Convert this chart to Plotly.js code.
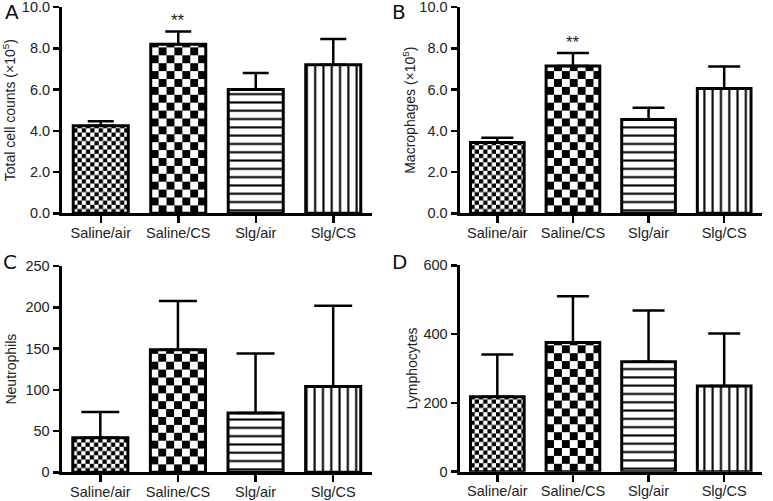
<!DOCTYPE html>
<html><head><meta charset="utf-8">
<script src="https://cdn.plot.ly/plotly-3.0.1.min.js"></script>
<style>html,body{margin:0;padding:0;background:#fff}#chart{width:773px;height:501px}</style>
</head><body><div id="chart"></div>
<script>
// ---- data ----
const categories = ['Saline/air', 'Saline/CS', 'Slg/air', 'Slg/CS'];
const totalMean = [4.25, 8.2, 6.0, 7.2];
const totalErr = [0.22, 0.62, 0.8, 1.25];
const macroMean = [3.43, 7.14, 4.55, 6.05];
const macroErr = [0.24, 0.63, 0.57, 1.07];
const neutroMean = [42, 148.6, 72, 104];
const neutroErr = [31, 59, 72, 98];
const lymphoMean = [218, 376, 320, 249];
const lymphoErr = [123, 134, 149, 153];
const noLower = [0, 0, 0, 0];
const ticksAB = [0, 2, 4, 6, 8, 10];
const ticksC = [0, 50, 100, 150, 200, 250];
const ticksD = [0, 200, 400, 600];
const panelLetters = ['A', 'B', 'C', 'D'];
const yTitles = ['Total cell counts (×10<sup>5</sup>)', 'Macrophages (×10<sup>5</sup>)', 'Neutrophils', 'Lymphocytes'];
const sigLabel = '**';

const W = 773, H = 501;
const FONT = 'Liberation Sans, Arial, Helvetica, sans-serif';
const TXT = '#222';
const shapes = ['', '', '-', '|'];

function px2x(a, b) { return [a / W, b / W]; }
function px2y(top, bottom) { return [1 - bottom / H, 1 - top / H]; }

const panels = [
  {mean: totalMean, err: totalErr, xd: px2x(62, 372), yd: px2y(7, 213.3), range: [0, 10.005], ticks: ticksAB, fmt: '.1f', cap: 13, so: 5},
  {mean: macroMean, err: macroErr, xd: px2x(459.5, 762), yd: px2y(7, 213.3), range: [0, 10.005], ticks: ticksAB, fmt: '.1f', cap: 16, so: 1},
  {mean: neutroMean, err: neutroErr, xd: px2x(61.5, 372), yd: px2y(266, 472.3), range: [0, 250.1], ticks: ticksC, fmt: 'd', cap: 19, so: 6},
  {mean: lymphoMean, err: lymphoErr, xd: px2x(459.5, 762), yd: px2y(265.3, 471.7), range: [0, 600.2], ticks: ticksD, fmt: 'd', cap: 16, so: 3}
];

const data = [];
const layout = {
  width: W, height: H, margin: {l: 0, r: 0, t: 0, b: 0},
  paper_bgcolor: 'white', plot_bgcolor: 'white', showlegend: false,
  font: {family: FONT, size: 14, color: TXT},
  annotations: []
};

panels.forEach((p, i) => {
  const n = i === 0 ? '' : String(i + 1);
  data.push({
    type: 'bar', x: categories, y: p.mean, width: 0.71,
    xaxis: 'x' + n, yaxis: 'y' + n,
    marker: {color: 'white', line: {color: 'black', width: 3},
      pattern: {shape: shapes, fgcolor: 'black', bgcolor: 'white', size: 8.3, solidity: 0.25}},
    error_y: {type: 'data', symmetric: false, array: p.err, arrayminus: noLower,
      color: 'black', thickness: 2.5, width: p.cap},
    hoverinfo: 'skip'
  });
  layout['xaxis' + n] = {
    domain: p.xd, anchor: 'y' + n, range: [-0.5, 3.5], type: 'category',
    showline: true, linewidth: 3, linecolor: 'black', mirror: false,
    ticks: 'outside', ticklen: 7, tickwidth: 2.5, tickcolor: 'black',
    ticklabelstandoff: -3, ticklabeloverflow: 'allow',
    tickfont: {family: FONT, size: 14.5, color: TXT},
    showgrid: false, zeroline: false, fixedrange: true
  };
  layout['yaxis' + n] = {
    domain: p.yd, anchor: 'x' + n, range: p.range, tickmode: 'array', tickvals: p.ticks, tickformat: p.fmt,
    showline: true, linewidth: 3, linecolor: 'black',
    ticks: 'outside', ticklen: 6, tickwidth: 2.5, tickcolor: 'black',
    ticklabeloverflow: 'allow',
    tickfont: {family: FONT, size: 14.5, color: TXT},
    title: {text: yTitles[i], font: {family: FONT, size: 14, color: TXT}, standoff: p.so},
    showgrid: false, zeroline: false, fixedrange: true
  };
});

const letterPos = [[12, 12], [399, 12], [10, 262], [399, 262]];
panelLetters.forEach((L, i) => {
  layout.annotations.push({
    text: L, xref: 'paper', yref: 'paper', x: letterPos[i][0] / W, y: 1 - letterPos[i][1] / H,
    xanchor: 'center', yanchor: 'middle', showarrow: false,
    font: {family: 'DejaVu Sans, sans-serif', size: 20, color: '#111'}
  });
});
layout.annotations.push({text: sigLabel, xref: 'x', yref: 'y', x: categories[1], y: 9.35,
  showarrow: false, font: {family: FONT, size: 17, color: TXT}});
layout.annotations.push({text: sigLabel, xref: 'x2', yref: 'y2', x: categories[1], y: 8.3,
  showarrow: false, font: {family: FONT, size: 17, color: TXT}});

const gd = document.getElementById('chart');
Plotly.newPlot(gd, data, layout, {staticPlot: true, displayModeBar: false}).then(() => {
  const NS = 'http://www.w3.org/2000/svg';
  const svg = gd.querySelector('svg.main-svg');
  let defs = svg.querySelector('defs');
  if (!defs) { defs = document.createElementNS(NS, 'defs'); svg.insertBefore(defs, svg.firstChild); }
  let k = 0;
  gd.querySelectorAll('.barlayer .trace').forEach(tr => {
    const paths = tr.querySelectorAll('.point path');
    [[0, 4.25], [1, 7.9]].forEach(([idx, s]) => {
      const path = paths[idx];
      if (!path) return;
      const bb = path.getBBox();
      const id = 'checker' + (k++);
      const pat = document.createElementNS(NS, 'pattern');
      pat.setAttribute('id', id);
      pat.setAttribute('patternUnits', 'userSpaceOnUse');
      pat.setAttribute('x', bb.x);
      pat.setAttribute('y', bb.y + bb.height);
      pat.setAttribute('width', 2 * s);
      pat.setAttribute('height', 2 * s);
      const rects = [[0, 0, 2 * s, 2 * s, 'white'], [0, 0, s, s, 'black'], [s, s, s, s, 'black']];
      rects.forEach(([x, y, w, h, c]) => {
        const r = document.createElementNS(NS, 'rect');
        r.setAttribute('x', x); r.setAttribute('y', y);
        r.setAttribute('width', w); r.setAttribute('height', h);
        r.setAttribute('fill', c);
        pat.appendChild(r);
      });
      defs.appendChild(pat);
      path.style.fill = 'url(#' + id + ')';
    });
  });
});
</script>
</body></html>
